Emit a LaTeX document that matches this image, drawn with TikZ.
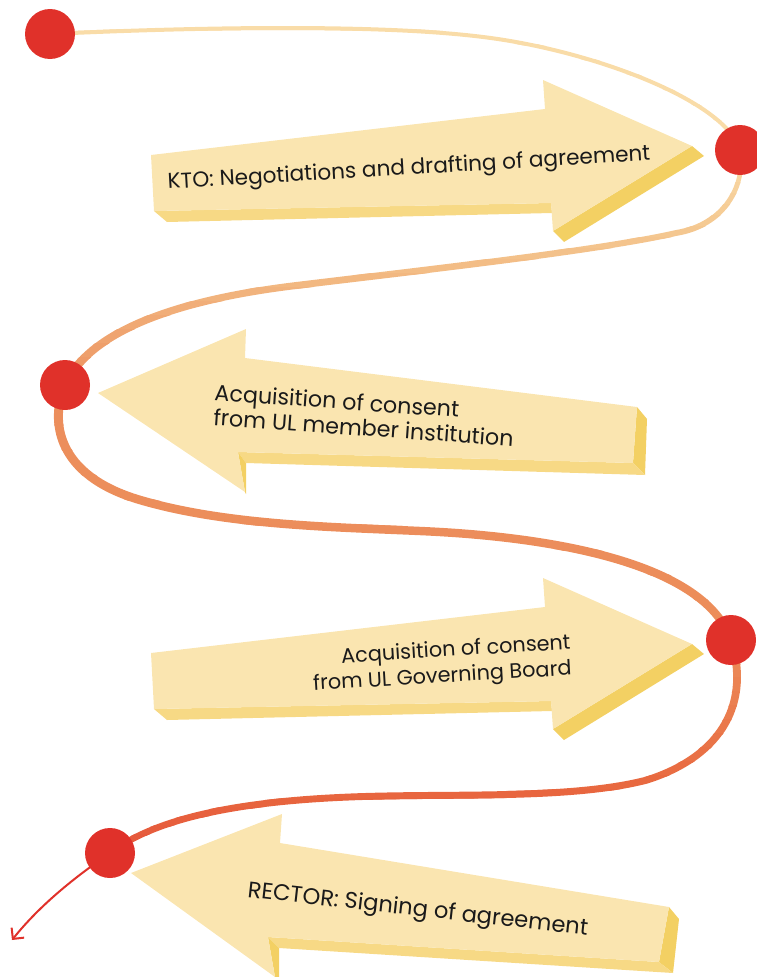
\documentclass[tikz,border=0pt]{standalone}
\usepackage{fontspec}
\setmainfont{Poppins}
\usetikzlibrary{arrows.meta}
\definecolor{armface}{HTML}{FAE5B0}
\definecolor{armbot}{HTML}{F7D985}
\definecolor{armside}{HTML}{F3D063}
\definecolor{dotred}{HTML}{E0312A}
\definecolor{cA}{HTML}{F9DCA8}
\definecolor{cB}{HTML}{F3C088}
\definecolor{cC}{HTML}{EC8E5C}
\definecolor{cD}{HTML}{EC8D5A}
\definecolor{cE}{HTML}{E8673F}
\definecolor{cF}{HTML}{E4503A}
\definecolor{txt}{HTML}{1A1A1A}
\begin{document}
\begin{tikzpicture}[x=1pt,y=-1pt,
  dotnode/.style={circle,fill=dotred,minimum size=50pt,inner sep=0pt},
  face/.style={fill=armface},
  botface/.style={fill=armbot},
  sideface/.style={fill=armside},
  lbl/.style={font=\fontsize{#1}{24}\selectfont, text=txt, inner sep=0pt}]
\useasboundingbox (0,0) rectangle (757,977);

% ---------- arrows ----------
% arrow 1 (right)
\fill[botface] (154,211) -- (551,203) -- (552,213) -- (167,222) -- cycle;
\fill[sideface] (692,146) -- (553,231) -- (564,242) -- (704,156) -- cycle;
\fill[face] (151,155) -- (545,109) -- (543,80) -- (692,146) -- (553,231) -- (551,203) -- (154,211) -- cycle;
% arrow 3 (right)
\begin{scope}[shift={(0,498)}]
\fill[botface] (154,211) -- (551,203) -- (552,213) -- (167,222) -- cycle;
\fill[sideface] (692,146) -- (553,231) -- (564,242) -- (704,156) -- cycle;
\fill[face] (151,155) -- (545,109) -- (543,80) -- (692,146) -- (553,231) -- (551,203) -- (154,211) -- cycle;
\end{scope}
% arrow 2 (left)
\fill[sideface] (637,407) -- (647,419) -- (645,475) -- (633,463) -- cycle;
\fill[botface] (238,452) -- (633,463) -- (645,475) -- (246,463) -- cycle;
\fill[sideface] (238,452) -- (246,463) -- (246,494) -- (245,492) -- cycle;
\fill[face] (98,393) -- (246,329) -- (245,358) -- (637,407) -- (633,463) -- (238,452) -- (245,492) -- cycle;
% arrow 4 (left)
\fill[sideface] (669,907) -- (679,919) -- (673,973) -- (659,962) -- cycle;
\fill[botface] (268,937) -- (659,962) -- (673,973) -- (279,948) -- cycle;
\fill[sideface] (268,937) -- (279,948) -- (279,979) -- (275,977) -- cycle;
\fill[face] (131,873) -- (282,814) -- (280,843) -- (669,907) -- (659,962) -- (268,937) -- (275,977) -- cycle;

% ---------- labels ----------
\node[lbl=21.6, anchor=base west, rotate=3.4] (t1) at (168,189) {KTO: Negotiations and drafting of agreement};
\node[lbl=22.2, anchor=base west, rotate=-4.1] (t2a) at (214,400) {Acquisition of consent};
\node[lbl=22.2, anchor=base west, rotate=-4.1] (t2b) at (213,425) {from UL member institution};
\node[lbl=20.8, anchor=base east, rotate=3.5] (t3a) at (571,649) {Acquisition of consent};
\node[lbl=20.8, anchor=base east, rotate=3.4] (t3b) at (572,675) {from UL Governing Board};
\node[lbl=22.6, anchor=base west, rotate=-6.4] (t4) at (247,897) {RECTOR: Signing of agreement};

% ---------- path ----------
\coordinate (p1) at (50,34);
\coordinate (p2) at (740,150);
\coordinate (p3) at (65,385);
\coordinate (p4) at (731,640);
\coordinate (p5) at (110,853);
\coordinate (pend) at (12,940);
\def\curvepath{(p1) .. controls (200,27) and (380,24) .. (483,37)
  .. controls (590,50) and (725,100) .. (p2)
  .. controls (746,185) and (725,225) .. (676,233)
  .. controls (600,250) and (450,267) .. (300,285)
  .. controls (180,299) and (90,330) .. (p3)
  .. controls (50,420) and (55,475) .. (140,500)
  .. controls (225,525) and (330,527) .. (420,531)
  .. controls (560,537) and (705,565) .. (p4)
  .. controls (750,700) and (725,755) .. (647,780)
  .. controls (570,800) and (450,793) .. (350,797)
  .. controls (250,801) and (160,815) .. (p5)}
\foreach \ya/\yb/\ca/\cb/\wa/\wb in {0/150/cA/cA/4/4, 150/260/cA/cB/4/6.5, 260/400/cB/cC/6.5/9, 400/650/cC/cD/9/8, 650/790/cD/cE/8/7, 790/880/cE/cF/7/6}{
  \foreach \k in {0,...,9}{
    \pgfmathsetmacro\yy{\ya+(\yb-\ya)*\k/10}
    \pgfmathsetmacro\yz{\ya+(\yb-\ya)*(\k+1)/10}
    \pgfmathsetmacro\pp{100-(\k+0.5)*10}
    \pgfmathsetmacro\ww{\wa+(\wb-\wa)*(\k+0.5)/10}
    \begin{scope}
      \clip (-30,\yy-1) rectangle (790,\yz);
      \draw[line width=\ww pt, color=\ca!\pp!\cb] \curvepath;
    \end{scope}
  }
}
\draw[line width=2pt, dotred, -{Straight Barb[length=8pt,width=16pt]}] (p5) .. controls (75,877) and (40,905) .. (pend);

% ---------- dots ----------
\node[dotnode] (d1) at (p1) {};
\node[dotnode] (d2) at (p2) {};
\node[dotnode] (d3) at (p3) {};
\node[dotnode] (d4) at (p4) {};
\node[dotnode] (d5) at (p5) {};
\end{tikzpicture}
\end{document}
